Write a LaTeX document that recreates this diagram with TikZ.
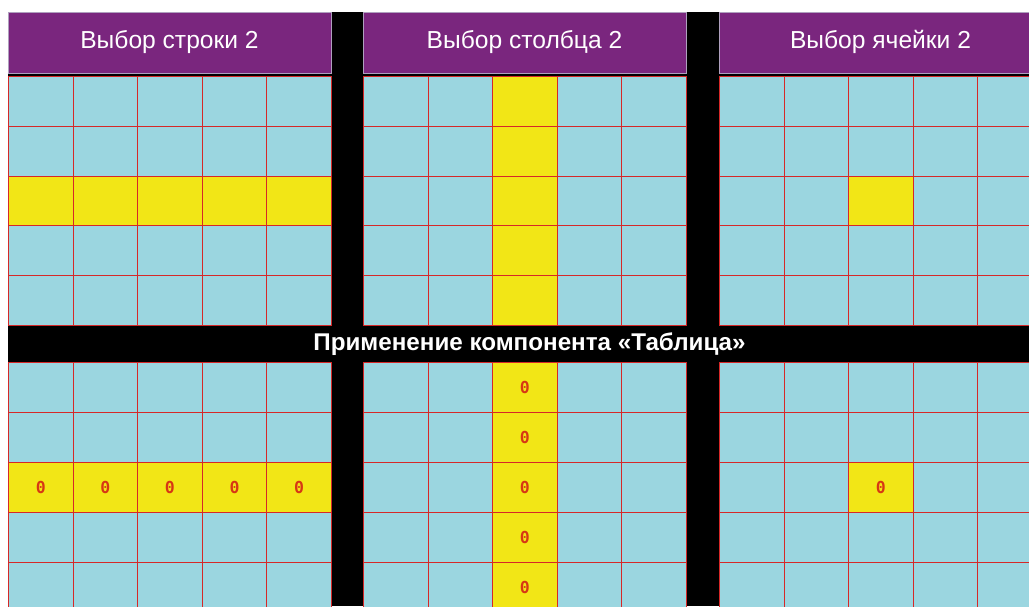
\documentclass[tikz,border=0pt]{standalone}
\usepackage{fontspec}
\setmainfont{Liberation Sans}
\newfontfamily\zerofont{DejaVu Sans Mono}

\definecolor{hdrpurple}{RGB}{122,38,126}
\definecolor{hdrline}{RGB}{175,160,190}
\definecolor{cellblue}{RGB}{155,214,224}
\definecolor{cellyellow}{RGB}{242,230,22}
\definecolor{gridred}{RGB}{214,40,40}
\definecolor{zerored}{RGB}{215,55,20}

\tikzset{
  hdrbox/.style={draw=hdrline, line width=0.8pt, fill=hdrpurple, anchor=north west,
    minimum width=323pt, minimum height=61pt, inner sep=0pt},
  cellbox/.style={draw=gridred, line width=0.9pt, anchor=north west,
    minimum width=64.6pt, minimum height=49.8pt, inner sep=0pt},
  zero/.style={text=zerored, font=\zerofont\bfseries\fontsize{16.5}{16.5}\selectfont}
}

\begin{document}
\begin{tikzpicture}[x=1pt,y=-1pt]
\useasboundingbox (0,0) rectangle (1029,606);
\clip (0,0) rectangle (1029,606);
\fill[white] (0,0) rectangle (1029,606);
\fill[black] (8,12) rectangle (1029,606);

% headers
\node[hdrbox] (hdr1) at (8,12) {};
\node[hdrbox] (hdr2) at (363,12) {};
\node[hdrbox] (hdr3) at (719,12) {};
\node[text=white, font=\fontsize{24.6}{28}\selectfont, anchor=base] (hdrt1) at (169.5,48) {Выбор строки 2};
\node[text=white, font=\fontsize{24.6}{28}\selectfont, anchor=base] (hdrt2) at (524.5,48) {Выбор столбца 2};
\node[text=white, font=\fontsize{24.6}{28}\selectfont, anchor=base] (hdrt3) at (880.5,48) {Выбор ячейки 2};

% grids: top = selection, bottom = table component
\foreach \p/\px in {1/8,2/363,3/719} {
  \foreach \r in {0,...,4} {
    \foreach \c in {0,...,4} {
      \pgfmathtruncatemacro{\hit}{(\p==1 && \r==2) || (\p==2 && \c==2) || (\p==3 && \r==2 && \c==2)}
      \ifnum\hit=1
        \node[cellbox, fill=cellyellow] (top-\p-\r-\c) at (\px+64.6*\c, 76+49.8*\r) {};
        \node[cellbox, fill=cellyellow, zero] (bot-\p-\r-\c) at (\px+64.6*\c, 362+50*\r) {0};
      \else
        \node[cellbox, fill=cellblue] (top-\p-\r-\c) at (\px+64.6*\c, 76+49.8*\r) {};
        \node[cellbox, fill=cellblue] (bot-\p-\r-\c) at (\px+64.6*\c, 362+50*\r) {};
      \fi
    }
  }
}

\node[text=white, font=\bfseries\fontsize{24.2}{28}\selectfont, anchor=base] (title) at (529.5,350)
{Применение компонента «Таблица»};
\end{tikzpicture}
\end{document}
